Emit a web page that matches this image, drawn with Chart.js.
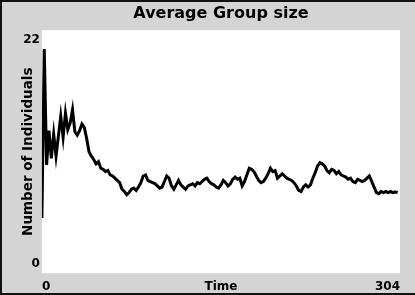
<!DOCTYPE html>
<html>
<head>
<meta charset="utf-8">
<script src="https://cdn.jsdelivr.net/npm/chart.js@4/dist/chart.umd.min.js"></script>
<style>
  html, body { margin: 0; padding: 0; background: #fff; }
  canvas { display: block; }
</style>
</head>
<body>
<canvas id="myChart" width="415" height="295"></canvas>
<script>
// average group size, one reading every 2 time steps (t = 0 .. 302)
const step = 2
const sizes = [
  5.0, 20.3, 9.8, 12.9, 10.4, 12.6, 10.6, 12.4, 14.2, 12.3,
  14.5, 13.0, 13.6, 14.8, 12.8, 12.5, 12.9, 13.5, 13.2, 12.2,
  11.0, 10.6, 10.3, 9.9, 10.1, 9.5, 9.4, 9.2, 9.3, 8.9,
  8.8, 8.6, 8.4, 8.2, 7.6, 7.4, 7.1, 7.3, 7.6, 7.7,
  7.5, 7.8, 8.2, 8.8, 8.9, 8.4, 8.3, 8.2, 8.1, 7.9,
  7.7, 7.8, 8.3, 8.8, 8.6, 7.9, 7.6, 8.0, 8.4, 8.0,
  7.8, 7.6, 7.9, 8.0, 8.1, 7.9, 8.2, 8.1, 8.3, 8.5,
  8.6, 8.3, 8.1, 8.0, 7.8, 7.7, 8.0, 8.4, 8.2, 7.9,
  8.1, 8.5, 8.7, 8.5, 8.6, 7.9, 8.3, 8.9, 9.5, 9.4,
  9.2, 8.8, 8.4, 8.2, 8.3, 8.6, 9.0, 9.5, 9.2, 9.3,
  8.6, 8.8, 9.0, 8.8, 8.6, 8.5, 8.4, 8.2, 7.9, 7.5,
  7.4, 7.8, 8.0, 7.8, 8.0, 8.6, 9.1, 9.7, 10.0, 9.9,
  9.7, 9.3, 9.1, 9.4, 9.3, 9.0, 9.2, 8.9, 8.8, 8.7,
  8.5, 8.6, 8.3, 8.2, 8.5, 8.4, 8.3, 8.4, 8.6, 8.8,
  8.3, 7.8, 7.3, 7.2, 7.4, 7.3, 7.4, 7.3, 7.4, 7.3,
  7.35, 7.3
]
const xTicks = [0, 304]
const yTicks = [0, 22]

const points = sizes.map((v, i) => ({ x: i * step, y: v }))

const frame = {
  id: 'frame',
  beforeDraw(chart) {
    const { ctx, chartArea: a, width, height } = chart
    ctx.save()
    ctx.fillStyle = '#d4d4d4'
    ctx.fillRect(0, 0, width, height)
    ctx.fillStyle = '#ffffff'
    ctx.fillRect(a.left, a.top, a.right - a.left, a.bottom - a.top)
    // dark edge on top, left and bottom only
    ctx.fillStyle = '#111'
    ctx.fillRect(0, 0, width, 2)
    ctx.fillRect(0, 0, 2, height)
    ctx.fillRect(0, height - 2, width, 2)
    ctx.restore()
  }
}

const bold = (size) => ({ family: 'DejaVu Sans', weight: 'bold', size: size })

new Chart('myChart', {
  type: 'line',
  data: {
    datasets: [{
      label: 'Average Group size',
      data: points,
      borderColor: '#000',
      borderWidth: 3,
      pointRadius: 0,
      tension: 0
    }]
  },
  options: {
    responsive: false,
    animation: false,
    layout: { padding: { left: 4, right: 15, top: 0, bottom: 0 } },
    plugins: {
      legend: { display: false },
      tooltip: { enabled: false },
      title: {
        display: true,
        fullSize: false,
        text: 'Average Group size',
        color: '#000',
        font: bold(16),
        padding: { top: 4, bottom: 7 }
      }
    },
    scales: {
      x: {
        type: 'linear',
        min: xTicks[0],
        max: xTicks[1],
        afterBuildTicks: axis => { axis.ticks = xTicks.map(v => ({ value: v })) },
        grid: { display: false, drawTicks: false },
        border: { display: false },
        ticks: { color: '#000', font: bold(12), align: 'inner', padding: 6, maxRotation: 0 },
        title: {
          display: true,
          text: 'Time',
          color: '#000',
          font: bold(12),
          padding: { top: -20, bottom: 1 }
        }
      },
      y: {
        min: yTicks[0],
        max: yTicks[1],
        afterBuildTicks: axis => { axis.ticks = yTicks.map(v => ({ value: v })) },
        grid: { display: false, drawTicks: false },
        border: { display: false },
        ticks: {
          color: '#000',
          font: { family: 'DejaVu Sans', weight: 'bold', size: 12, lineHeight: 1.6 },
          padding: 2,
          // keep the end labels inside the plot height like the original
          callback: v => v === yTicks[1] ? ['', String(v)] : [String(v), '']
        },
        title: {
          display: true,
          text: 'Number of Individuals',
          color: '#000',
          font: bold(13.5),
          padding: { top: 16, bottom: -15 }
        }
      }
    }
  },
  plugins: [frame]
})
</script>
</body>
</html>
